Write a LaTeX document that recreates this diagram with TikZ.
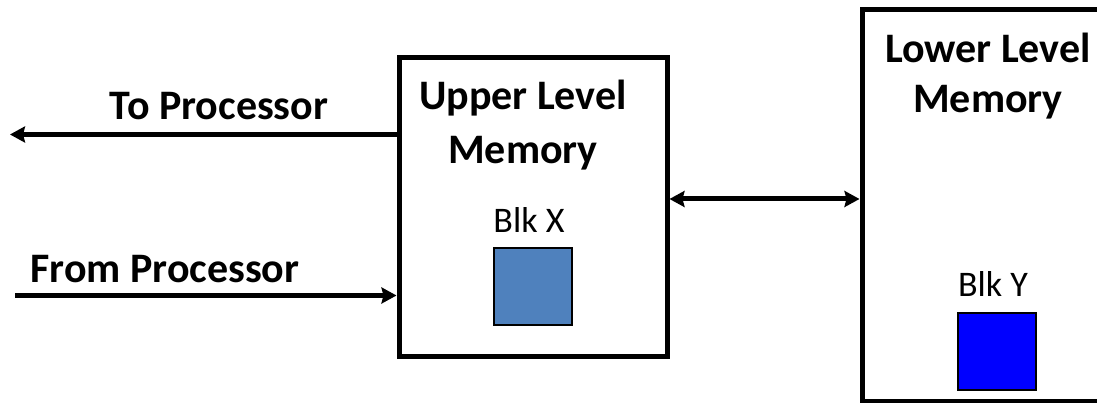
\documentclass[tikz,border=0pt]{standalone}
\usepackage{fontspec}
\setmainfont{Carlito}
\usetikzlibrary{arrows.meta}
\definecolor{blkxblue}{RGB}{79,129,189}
\begin{document}
\begin{tikzpicture}[x=1pt,y=1pt,>={Stealth[length=15pt,width=16pt,inset=2pt]},
	membox/.style={draw,line width=5pt,inner sep=0pt},
	blkbox/.style={draw,line width=2pt,inner sep=0pt,minimum width=78pt,minimum height=77pt},
	title/.style={font=\fontsize{42}{54}\selectfont\bfseries,align=center},
	blklabel/.style={font=\fontsize{36}{40}\selectfont},
	conn/.style={line width=5pt}]
	\useasboundingbox (0,0) rectangle (1097,403);
	\clip (0,0) rectangle (1097,403);
	% memory boxes
	\node[membox,minimum width=268pt,minimum height=299pt] (upper) at (533,195.5) {};
	\node[membox,minimum width=278pt,minimum height=391.5pt] (lower) at (1001,197.25) {};
	\node[title,anchor=base] (uppertitle) at (523,239) {Upper Level\\Memory};
	\node[title,anchor=base,font=\fontsize{42}{50}\selectfont\bfseries] (lowertitle) at (988,290) {Lower Level\\Memory};
	% blocks
	\node[blkbox,fill=blkxblue] (blkx) at (532.5,116) {};
	\node[blkbox,fill=blue] (blky) at (996.5,51.5) {};
	\node[blklabel,anchor=base] (blkxlabel) at (529,170) {Blk X};
	\node[blklabel,anchor=base] (blkylabel) at (993,106) {Blk Y};
	% connectors
	\coordinate (toproc) at (10,268.5);
	\coordinate (fromproc) at (15,107.5);
	\coordinate (link) at (765,204);
	\draw[conn,->] (upper.west |- toproc) -- (toproc);
	\draw[conn,->] (fromproc) -- (fromproc -| upper.west);
	\draw[conn,<->] (link -| upper.east) -- (link -| lower.west);
	\node[title,anchor=base] (tolabel) at (219,283) {To Processor};
	\node[title,anchor=base] (fromlabel) at (165,120) {From Processor};
\end{tikzpicture}
\end{document}
